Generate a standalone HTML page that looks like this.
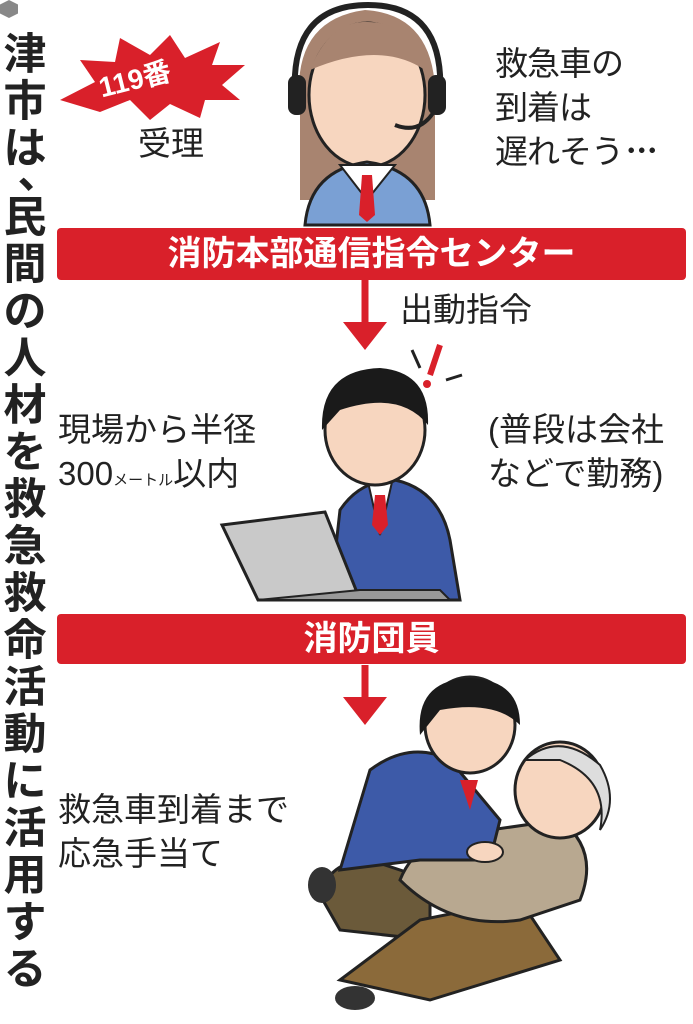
<!DOCTYPE html>
<html><head><meta charset="utf-8"><style>
body{margin:0;width:693px;height:1024px;background:#fff;position:relative;overflow:hidden;font-family:"Liberation Sans","Noto Sans CJK JP",sans-serif;color:#222}
.a{position:absolute;white-space:nowrap}
.bar{position:absolute;left:57px;width:629px;background:#d9202a;color:#fff;font-weight:bold;text-align:center;border-radius:4px}
.t{font-size:33px;line-height:44px}
.v span{display:block;height:47px}
</style></head><body>
<div class="a" style="left:0;top:0;width:18px;height:18px;background:#888;clip-path:polygon(50% 0,100% 25%,100% 75%,50% 100%,0 75%,0 25%)"></div>
<div class="a v" style="left:2px;top:32px;width:46px;font-size:43px;line-height:46px;font-weight:bold;text-align:center"><span>津</span><span>市</span><span>は</span><span style="height:22px;transform:translate(14px,-22px)">、</span><span>民</span><span>間</span><span>の</span><span>人</span><span>材</span><span>を</span><span>救</span><span>急</span><span>救</span><span>命</span><span>活</span><span>動</span><span>に</span><span>活</span><span>用</span><span>す</span><span>る</span></div>

<svg class="a" style="left:0;top:0" width="693" height="1024">
<polygon points="60,100 95,82 80,60 115,62 120,38 150,55 170,35 185,58 220,42 212,65 245,65 222,85 240,100 205,100 200,118 170,104 150,120 130,100 100,112" fill="#d9202a"/>
<path d="M300,110 Q290,20 365,10 Q440,15 435,110 L435,200 L300,200Z" fill="#a88470"/>
<ellipse cx="367" cy="95" rx="58" ry="72" fill="#f7d6bf" stroke="#222" stroke-width="3"/>
<path d="M310,70 Q330,20 368,22 Q410,22 425,70 Q380,40 310,70Z" fill="#a88470"/>
<path d="M295,95 Q290,5 368,5 Q445,5 440,95" fill="none" stroke="#222" stroke-width="6"/>
<rect x="288" y="75" width="18" height="40" rx="8" fill="#222"/><rect x="428" y="75" width="18" height="40" rx="8" fill="#222"/>
<path d="M435,110 Q420,135 395,125" stroke="#222" stroke-width="4" fill="none"/>
<path d="M305,225 Q310,170 367,162 Q425,170 430,225Z" fill="#7aa0d4" stroke="#222" stroke-width="3"/>
<polygon points="340,165 367,200 395,165" fill="#fff" stroke="#222" stroke-width="2"/>
<polygon points="362,175 372,175 375,215 367,222 359,215" fill="#d9202a"/>
<path d="M365,280 V330" stroke="#d9202a" stroke-width="7"/><polygon points="343,322 387,322 365,350" fill="#d9202a"/>
<path d="M365,665 V705" stroke="#d9202a" stroke-width="7"/><polygon points="343,697 387,697 365,725" fill="#d9202a"/>
<path d="M440,345 L430,375" stroke="#d9202a" stroke-width="6"/><circle cx="427" cy="384" r="4" fill="#d9202a"/>
<path d="M412,350 L420,368 M446,380 L462,375" stroke="#222" stroke-width="3"/>
<path d="M330,600 L340,510 Q360,480 395,480 Q440,490 450,540 L460,600Z" fill="#3d5aa8" stroke="#222" stroke-width="3"/>
<polygon points="368,482 380,535 392,482" fill="#fff" stroke="#222" stroke-width="2"/>
<polygon points="375,495 385,495 388,525 380,535 372,525" fill="#d9202a"/>
<ellipse cx="375" cy="430" rx="50" ry="55" fill="#f7d6bf" stroke="#222" stroke-width="3"/>
<path d="M322,430 Q320,370 380,368 Q430,372 428,425 Q400,390 340,410 Z" fill="#1a1a1a"/>
<polygon points="222,525 325,512 360,600 258,600" fill="#c9c9c9" stroke="#222" stroke-width="3"/>
<polygon points="258,600 360,600 450,600 440,590 360,590" fill="#999" stroke="#222" stroke-width="2"/>
<path d="M320,895 Q330,860 370,860 L430,880 L430,940 L340,930Z" fill="#6b5a3a" stroke="#222" stroke-width="3"/>
<path d="M340,980 L420,920 L520,900 L560,960 L430,1000 Z" fill="#8b6a3a" stroke="#222" stroke-width="3"/>
<ellipse cx="355" cy="998" rx="20" ry="12" fill="#333"/>
<ellipse cx="322" cy="885" rx="14" ry="18" fill="#333"/>
<path d="M400,880 Q420,830 490,830 L560,820 Q600,850 580,900 L520,920 Q450,930 400,880Z" fill="#b8a890" stroke="#222" stroke-width="3"/>
<ellipse cx="560" cy="790" rx="45" ry="48" fill="#f7d6bf" stroke="#222" stroke-width="3"/>
<path d="M525,760 Q560,730 600,765 Q620,800 600,830 Q610,780 560,760Z" fill="#ddd" stroke="#222" stroke-width="2"/>
<path d="M340,870 L370,770 Q410,740 450,760 L500,820 L490,860 L420,860 Z" fill="#3d5aa8" stroke="#222" stroke-width="3"/>
<ellipse cx="470" cy="725" rx="45" ry="48" fill="#f7d6bf" stroke="#222" stroke-width="3"/>
<path d="M420,735 Q415,680 470,678 Q520,680 520,725 Q495,700 440,710Z" fill="#1a1a1a"/>
<polygon points="460,780 470,810 478,780" fill="#d9202a"/>
<ellipse cx="485" cy="852" rx="18" ry="10" fill="#f7d6bf" stroke="#222" stroke-width="2"/>
</svg>

<div class="a" style="left:98px;top:58px;font-size:28px;color:#fff;font-weight:bold;transform:rotate(-14deg)">119番</div>
<div class="a t" style="left:138px;top:122px">受理</div>
<div class="a t" style="left:495px;top:42px;letter-spacing:-1px">救急車の<br>到着は<br>遅れそう<span style="letter-spacing:-6px">･･･</span></div>
<div class="bar" style="top:228px;height:52px;line-height:52px;font-size:34px">消防本部通信指令センター</div>
<div class="a t" style="left:400px;top:288px">出動指令</div>
<div class="a t" style="left:58px;top:408px">現場から半径<br>300<span style="font-size:15px">メートル</span>以内</div>
<div class="a t" style="left:488px;top:408px">(普段は会社<br>などで勤務)</div>
<div class="bar" style="top:614px;height:50px;line-height:50px;font-size:34px">消防団員</div>
<div class="a t" style="left:58px;top:788px">救急車到着まで<br>応急手当て</div>
</body></html>
